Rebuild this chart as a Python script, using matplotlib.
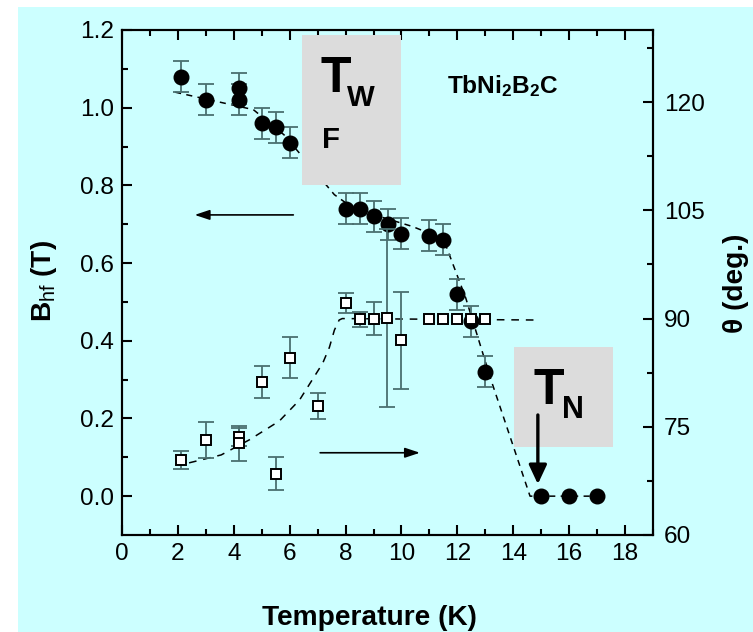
import numpy as np
import matplotlib
matplotlib.use("Agg")
import matplotlib.pyplot as plt
from matplotlib import font_manager as fm
from matplotlib.patches import Rectangle
from matplotlib.ticker import MultipleLocator, FormatStrFormatter, FixedLocator

# ---------------- data ----------------
circ_T = [2.1, 3.0, 4.2, 4.2, 5.0, 5.5, 6.0, 8.0, 8.5, 9.0, 9.5, 10.0,
          11.0, 11.5, 12.0, 12.5, 13.0, 15.0, 16.0, 17.0]
circ_B = [1.08, 1.02, 1.05, 1.02, 0.96, 0.95, 0.91, 0.74, 0.74, 0.72, 0.70, 0.675,
          0.67, 0.66, 0.52, 0.45, 0.32, 0.0, 0.0, 0.0]
circ_err = [0.04, 0.04, 0.04, 0.04, 0.04, 0.04, 0.04, 0.04, 0.04, 0.04, 0.04, 0.04,
            0.04, 0.04, 0.04, 0.04, 0.04, 0.0, 0.0, 0.0]

sq_T = [2.1, 3.0, 4.2, 4.2, 5.0, 5.5, 6.0, 7.0, 8.0, 8.5, 9.0, 9.5, 10.0,
        11.0, 11.5, 12.0, 12.5, 13.0]
sq_theta = [70.4, 73.2, 73.6, 72.7, 81.2, 68.5, 84.6, 77.9, 92.2, 89.9, 90.0, 90.1, 87.0,
            90.0, 90.0, 90.0, 90.0, 90.0]
sq_err = [1.3, 2.5, 1.2, 2.4, 2.2, 2.3, 2.9, 1.8, 1.4, 1.0, 2.3, 12.3, 6.7,
          0.0, 0.0, 0.0, 0.0, 0.0]

# dashed guide lines
circ_fit_T = [1.9, 4.7, 5.8, 7.6, 8.3, 10.4, 11.5, 12.3, 13.2, 14.6, 17.0]
circ_fit_B = [1.04, 0.995, 0.93, 0.776, 0.74, 0.694, 0.662, 0.51, 0.30, 0.0, 0.0]
sq_fit_T = [2.4, 3.55, 4.56, 5.63, 6.35, 7.18, 7.42, 7.6, 7.77, 7.88, 14.8]
sq_fit_theta = [70.0, 71.1, 73.2, 75.8, 78.7, 83.8, 86.0, 88.4, 89.8, 90.0, 89.8]

x_ticks = [0, 2, 4, 6, 8, 10, 12, 14, 16, 18]
yl_ticks = [0.0, 0.2, 0.4, 0.6, 0.8, 1.0, 1.2]
yr_ticks = [60, 75, 90, 105, 120]

# ---------------- style ----------------
names = {f.name for f in fm.fontManager.ttflist}
FONT = 'Liberation Sans Narrow' if 'Liberation Sans Narrow' in names else 'Liberation Sans'
NARROW = FONT == 'Liberation Sans Narrow'
k = 1.0 if NARROW else 0.88
plt.rcParams['font.family'] = [FONT, 'DejaVu Sans']
plt.rcParams['mathtext.fontset'] = 'custom'
plt.rcParams['mathtext.rm'] = FONT
plt.rcParams['mathtext.bf'] = FONT + ':bold'
plt.rcParams['mathtext.it'] = FONT + ':italic'

W, H = 753, 632
CYAN = '#ccffff'
GRAY = '#dcdcdc'
ECOL = '#4a7070'

fig = plt.figure(figsize=(W / 100, H / 100), dpi=100, facecolor='white')
fig.patches.append(Rectangle((18 / W, 0), 1 - 18 / W, 1 - 7 / H, transform=fig.transFigure,
                             facecolor=CYAN, edgecolor='none', zorder=-5))

def fx(px):
    return px / W

def fy(py):
    return 1 - py / H

ax1 = fig.add_axes([fx(122), fy(535), fx(653) - fx(122), fy(30) - fy(535)])
ax1.set_facecolor(CYAN)
ax2 = ax1.twinx()
ax2.set_facecolor('none')

ax1.set_xlim(0, 19)
ax1.set_ylim(-0.1, 1.2)
ax2.set_ylim(60, 130)

# circles with error bars
ct = np.array(circ_T); cb = np.array(circ_B); ce = np.array(circ_err)
m = ce > 0
ax1.errorbar(ct[m], cb[m], yerr=ce[m], fmt='none', ecolor=ECOL, elinewidth=1.3,
             capsize=6, capthick=1.3, zorder=2)
ax1.plot(circ_fit_T, circ_fit_B, color='black', lw=1.1, dashes=(4, 3.5), zorder=1.5)
ax1.plot(ct, cb, 'o', color='black', markersize=10.5, zorder=3)

# squares
st = np.array(sq_T); sth = np.array(sq_theta); se = np.array(sq_err)
m2 = se > 0
ax2.plot(sq_fit_T, sq_fit_theta, color='black', lw=1.1, dashes=(5, 4.5), zorder=1.5)
ax2.errorbar(st[m2], sth[m2], yerr=se[m2], fmt='none', ecolor=ECOL, elinewidth=1.3,
             capsize=6, capthick=1.3, zorder=2)
ax2.plot(st, sth, 's', mfc='white', mec='black', mew=1.4, markersize=7.5, zorder=3)

# gray boxes with labels
ax2.add_patch(Rectangle((6.43, 0.802), 9.97 - 6.43, 1.188 - 0.802, transform=ax1.transData,
                        facecolor=GRAY, edgecolor='none', zorder=4))
ax2.add_patch(Rectangle((14.01, 0.1255), 17.58 - 14.01, 0.385 - 0.1255, transform=ax1.transData,
                        facecolor=GRAY, edgecolor='none', zorder=4))

def ptext(x, y, s, size, **kw):
    fig.text(fx(x), fy(y), s, fontsize=size, fontweight='bold', ha='center', va='baseline',
             zorder=10, **kw)

ptext(335.5, 91.7, 'T', 36)
ptext(361.0, 106.0, 'W', 24 * k)
ptext(330.7, 148.3, 'F', 24 * k)
ptext(548.3, 404.0, 'T', 36)
ptext(572.5, 418.3, 'N', 25 * k)

fig.text(fx(446.7), fy(93.3), r'$\mathbf{TbNi_2B_2C}$', fontsize=20 * k, ha='left', va='baseline')

# arrows
ax1.annotate('', xy=(2.6, 0.724), xytext=(6.13, 0.724),
             arrowprops=dict(arrowstyle='-|>,head_length=0.6,head_width=0.2', lw=1.2,
                             color='black', mutation_scale=15, shrinkA=0, shrinkB=0))
ax2.annotate('', xy=(10.66, 71.4), xytext=(7.09, 71.4),
             arrowprops=dict(arrowstyle='-|>,head_length=0.6,head_width=0.2', lw=1.2,
                             color='black', mutation_scale=15, shrinkA=0, shrinkB=0))
ax2.annotate('', xy=(14.88, 0.031), xytext=(14.88, 0.209), xycoords=ax1.transData,
             textcoords=ax1.transData,
             arrowprops=dict(arrowstyle='-|>,head_length=0.77,head_width=0.36', lw=2.4,
                             color='black', mutation_scale=15, shrinkA=0, shrinkB=0),
             zorder=11)

# ticks
ax1.xaxis.set_major_locator(FixedLocator(x_ticks))
ax1.xaxis.set_minor_locator(MultipleLocator(1))
ax1.yaxis.set_major_locator(FixedLocator(yl_ticks))
ax1.yaxis.set_minor_locator(FixedLocator([0.1, 0.3, 0.5, 0.7, 0.9, 1.1]))
ax1.yaxis.set_major_formatter(FormatStrFormatter('%.1f'))
ax2.yaxis.set_major_locator(FixedLocator(yr_ticks))
ax2.yaxis.set_minor_locator(FixedLocator([67.5, 82.5, 97.5, 112.5, 127.5]))

TS = 20 * k
ax1.tick_params(which='both', direction='in', top=True, right=False, labelsize=TS,
                width=1.5, colors='black')
ax1.tick_params(which='major', length=7)
ax1.tick_params(which='minor', length=4)
ax1.tick_params(axis='x', pad=6)
ax1.tick_params(axis='y', pad=6)
ax2.tick_params(which='both', direction='in', labelsize=TS, width=1.5, pad=8)
ax2.tick_params(which='major', length=7)
ax2.tick_params(which='minor', length=4)

for ax in (ax1, ax2):
    for s in ax.spines.values():
        s.set_linewidth(1.5)
        s.set_color('black')

# axis labels
LS = 23 * k
fig.text(fx(369.7), fy(625), 'Temperature (K)', fontsize=LS, fontweight='bold',
         ha='center', va='baseline')
fig.text(fx(44), fy(281), r'$\mathbf{B}_{\mathrm{hf}}$' + ' (T)', fontsize=LS,
         fontweight='bold', rotation=90, ha='center', va='center')
fig.text(fx(736), fy(283), '\u03b8 (deg.)', fontsize=LS, fontweight='bold',
         rotation=90, ha='center', va='center')

fig.savefig('out.png', dpi=100, facecolor='white')
